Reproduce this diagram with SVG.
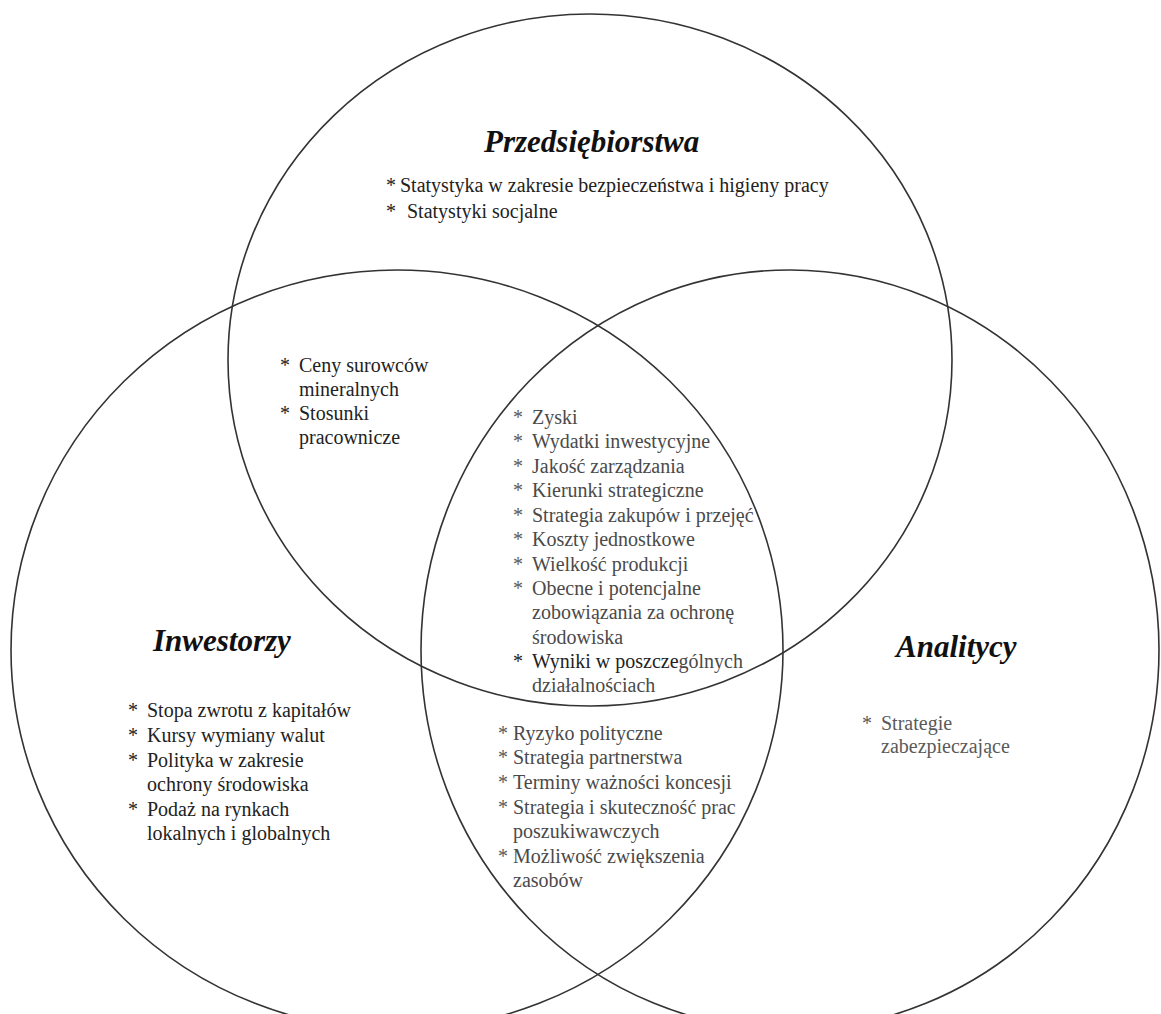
<svg xmlns="http://www.w3.org/2000/svg" width="1161" height="1014" viewBox="0 0 1161 1014">
<style>
.c{fill:none;stroke:#333;stroke-width:1.6}
.t{font-family:"Liberation Serif","Times New Roman",serif;font-size:31px;font-weight:bold;font-style:italic;fill:#111}
.b{font-family:"Liberation Serif","Times New Roman",serif;font-size:20px;fill:#222}
.g{fill:#4a4a4a}
.l{fill:#5a5a5a}
</style>
<rect width="1161" height="1014" fill="#fff"/>
<g id="circles">
<ellipse id="c-przedsiebiorstwa" class="c" cx="590" cy="360" rx="362" ry="346"/>
<ellipse id="c-inwestorzy" class="c" cx="397" cy="650" rx="386" ry="380"/>
<ellipse id="c-analitycy" class="c" cx="790" cy="650" rx="369" ry="380"/>
</g>
<g id="przedsiebiorstwa">
<text class="t" x="484" y="152">Przedsiębiorstwa</text>
<text class="b" x="386" y="192">*</text><text class="b" x="400" y="192">Statystyka w zakresie bezpieczeństwa i higieny pracy</text>
<text class="b" x="386" y="218">*</text><text class="b" x="407" y="218">Statystyki socjalne</text>
</g>
<g id="przedsiebiorstwa-inwestorzy">
<text class="b" x="280" y="372">*</text><text class="b" x="299" y="372">Ceny surowców</text>
<text class="b" x="299" y="396">mineralnych</text>
<text class="b" x="280" y="420">*</text><text class="b" x="299" y="420">Stosunki</text>
<text class="b" x="299" y="444">pracownicze</text>
</g>
<g id="wspolne">
<text class="b l" x="513" y="424">*</text><text class="b g" x="532" y="424">Zyski</text>
<text class="b l" x="513" y="448">*</text><text class="b g" x="532" y="448">Wydatki inwestycyjne</text>
<text class="b l" x="513" y="473">*</text><text class="b g" x="532" y="473">Jakość zarządzania</text>
<text class="b l" x="513" y="497">*</text><text class="b g" x="532" y="497">Kierunki strategiczne</text>
<text class="b l" x="513" y="522">*</text><text class="b g" x="532" y="522">Strategia zakupów i przejęć</text>
<text class="b l" x="513" y="546">*</text><text class="b g" x="532" y="546">Koszty jednostkowe</text>
<text class="b l" x="513" y="571">*</text><text class="b g" x="532" y="571">Wielkość produkcji</text>
<text class="b l" x="513" y="595">*</text><text class="b g" x="532" y="595">Obecne i potencjalne</text>
<text class="b g" x="532" y="619">zobowiązania za ochronę</text>
<text class="b g" x="532" y="644">środowiska</text>
<text class="b" x="513" y="668">*</text><text class="b" x="532" y="668">Wyniki w poszcze<tspan class="g">gólnych</tspan></text>
<text class="b g" x="532" y="692">działalnościach</text>
</g>
<g id="inwestorzy">
<text class="t" x="153" y="651">Inwestorzy</text>
<text class="b" x="128" y="717">*</text><text class="b" x="147" y="717">Stopa zwrotu z kapitałów</text>
<text class="b" x="128" y="742">*</text><text class="b" x="147" y="742">Kursy wymiany walut</text>
<text class="b" x="128" y="767">*</text><text class="b" x="147" y="767">Polityka w zakresie</text>
<text class="b" x="147" y="791">ochrony środowiska</text>
<text class="b" x="128" y="816">*</text><text class="b" x="147" y="816">Podaż na rynkach</text>
<text class="b" x="147" y="840">lokalnych i globalnych</text>
</g>
<g id="inwestorzy-analitycy">
<text class="b l" x="498" y="740">*</text><text class="b g" x="513" y="740">Ryzyko polityczne</text>
<text class="b l" x="498" y="764">*</text><text class="b g" x="513" y="764">Strategia partnerstwa</text>
<text class="b l" x="498" y="789">*</text><text class="b g" x="513" y="789">Terminy ważności koncesji</text>
<text class="b l" x="498" y="814">*</text><text class="b g" x="513" y="814">Strategia i skuteczność prac</text>
<text class="b g" x="513" y="838">poszukiwawczych</text>
<text class="b l" x="498" y="863">*</text><text class="b g" x="513" y="863">Możliwość zwiększenia</text>
<text class="b g" x="513" y="887">zasobów</text>
</g>
<g id="analitycy">
<text class="t" x="896" y="657">Analitycy</text>
<text class="b l" x="862" y="730">*</text><text class="b l" x="881" y="730">Strategie</text>
<text class="b l" x="881" y="753">zabezpieczające</text>
</g>
</svg>
